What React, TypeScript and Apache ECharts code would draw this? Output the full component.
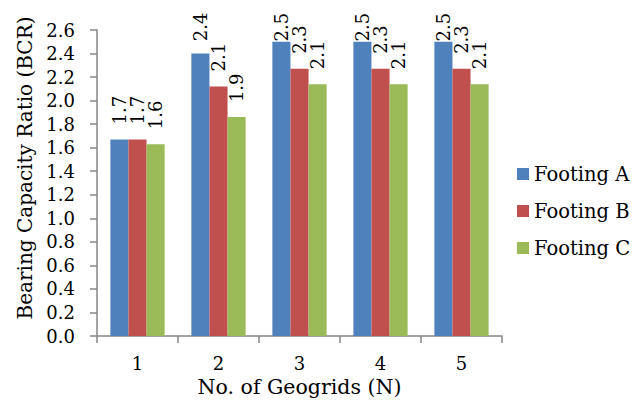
import React, { useEffect, useRef } from "react";
import * as echarts from "echarts";

const categories = ["1", "2", "3", "4", "5"];
const seriesNames = ["Footing A", "Footing B", "Footing C"];
const footingA = [1.67, 2.4, 2.5, 2.5, 2.5];
const footingB = [1.67, 2.12, 2.27, 2.27, 2.27];
const footingC = [1.63, 1.86, 2.14, 2.14, 2.14];
const colors = ["#4F81BD", "#C0504D", "#9BBB59"];

const FONT = "DejaVu Serif";
const AXIS_GRAY = "#868686";

const Y_MAX = 2.6;
const GRID = { left: 97, right: 138, top: 30, bottom: 59 };
const CHART_H = 402;
const LABEL_SIZE = 18;
const LABEL_DISTANCE = 15;
const LABEL_TOP_LIMIT = 12;

// Rotated value labels sit above their bars; near the top edge they are pulled
// down so the text stays inside the canvas.
function labelDistance(v: number, text: string): number {
  const plotH = CHART_H - GRID.top - GRID.bottom;
  const barTop = GRID.top + plotH * (1 - v / Y_MAX);
  const textLen = text.length * LABEL_SIZE * 0.55;
  return Math.max(0, Math.min(LABEL_DISTANCE, barTop - textLen - LABEL_TOP_LIMIT));
}

export default function App() {
  const ref = useRef<HTMLDivElement>(null);

  useEffect(() => {
    if (!ref.current) return;
    const chart = echarts.init(ref.current, null, { renderer: "svg" });
    const values = [footingA, footingB, footingC];

    chart.setOption({
      animation: false,
      backgroundColor: "#ffffff",
      textStyle: { fontFamily: FONT, color: "#000" },
      grid: { ...GRID, containLabel: false },
      legend: {
        orient: "vertical",
        left: 512,
        top: 157,
        itemWidth: 12,
        itemHeight: 12,
        itemGap: 13,
        icon: "rect",
        textStyle: { fontFamily: FONT, fontSize: 19.5, color: "#000", lineHeight: 24 },
        data: seriesNames,
      },
      xAxis: {
        type: "category",
        data: categories,
        name: "No. of Geogrids (N)",
        nameLocation: "middle",
        nameGap: 40,
        nameMoveOverlap: false,
        nameTextStyle: { fontFamily: FONT, fontSize: 20.5, color: "#000", lineHeight: 21 },
        axisLine: { show: true, lineStyle: { color: AXIS_GRAY, width: 1.5 } },
        axisTick: { show: true, length: 7, alignWithLabel: false, lineStyle: { color: AXIS_GRAY, width: 1.5 } },
        axisLabel: { fontFamily: FONT, fontSize: 18, color: "#000", margin: 18, lineHeight: 18 },
        splitLine: { show: false },
      },
      yAxis: {
        type: "value",
        min: 0,
        max: Y_MAX,
        interval: 0.2,
        name: "Bearing Capacity Ratio (BCR)",
        nameLocation: "middle",
        nameGap: 62,
        nameMoveOverlap: false,
        nameTextStyle: { fontFamily: FONT, fontSize: 20, color: "#000", padding: [0, 0, 0, 30] },
        axisLine: { show: true, lineStyle: { color: AXIS_GRAY, width: 1.5 } },
        axisTick: { show: true, length: 7, inside: false, lineStyle: { color: AXIS_GRAY, width: 1.5 } },
        axisLabel: {
          fontFamily: FONT,
          fontSize: 18,
          color: "#000",
          margin: 22,
          formatter: (v: number) => v.toFixed(1),
        },
        splitLine: { show: false },
      },
      series: seriesNames.map((name, i) => ({
        name,
        type: "bar",
        data: values[i].map((v) => ({
          value: v,
          label: { distance: labelDistance(v, v.toFixed(1)) },
        })),
        barGap: "0%",
        barCategoryGap: "33%",
        itemStyle: { color: colors[i] },
        label: {
          show: true,
          position: "top",
          rotate: 90,
          align: "left",
          verticalAlign: "middle",
          distance: LABEL_DISTANCE,
          fontFamily: FONT,
          fontSize: LABEL_SIZE,
          color: "#000",
          formatter: (p: any) => Number(p.value).toFixed(1),
        },
      })),
    });

    return () => chart.dispose();
  }, []);

  return <div ref={ref} style={{ width: 640, height: 402, position: "absolute", left: 0, top: 0 }} />;
}
